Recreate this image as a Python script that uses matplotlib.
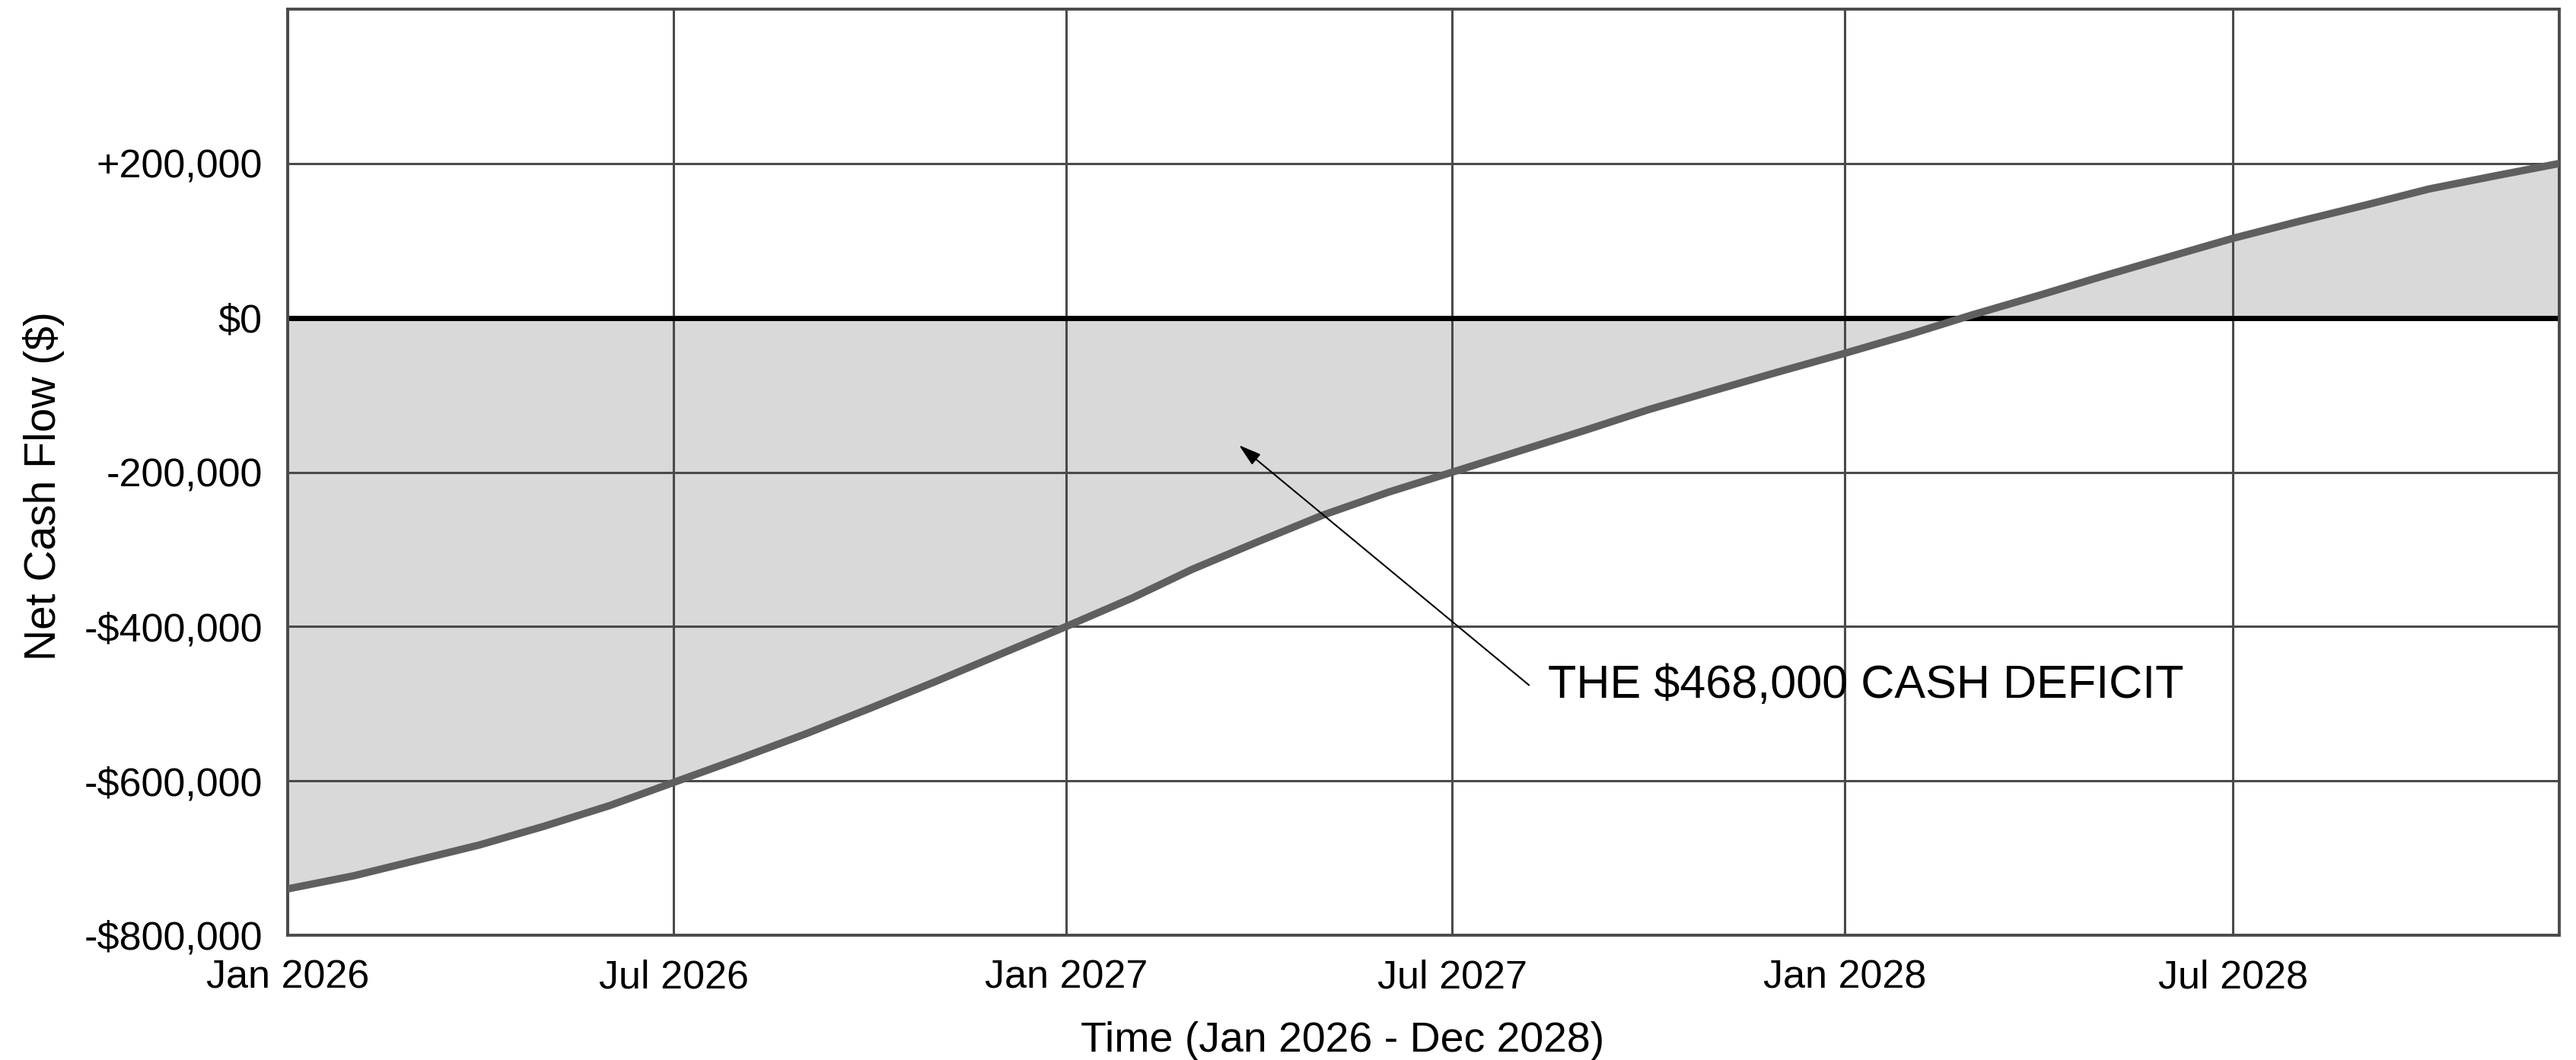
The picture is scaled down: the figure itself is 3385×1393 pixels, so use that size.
import matplotlib
matplotlib.use('Agg')
import matplotlib.pyplot as plt
import pandas as pd

plt.rcParams['font.family'] = ['Liberation Sans', 'DejaVu Sans']

# monthly net cash flow, Jan 2026 - Dec 2028 (in $ thousands)
months = pd.date_range('2026-01-01', periods=36, freq='MS')
net_flow_k = [-740, -723, -704, -683, -659, -632, -602, -571, -539, -506, -471, -436,
              -400, -363, -326, -290, -256, -226, -200, -173, -146, -119, -94, -70,
              -46, -21, 4, 29, 54, 79, 103, 125, 146, 167, 184, 200]
net_flow = [v * 1000 for v in net_flow_k]

ytick_vals = [-800000, -600000, -400000, -200000, 0, 200000]
ytick_labels = ['-$800,000', '-$600,000', '-$400,000', '-200,000', '$0', '+200,000']
xtick_dates = ['2026-01-01', '2026-07-01', '2027-01-01', '2027-07-01', '2028-01-01', '2028-07-01']
xtick_labels = ['Jan 2026', 'Jul 2026', 'Jan 2027', 'Jul 2027', 'Jan 2028', 'Jul 2028']

W, H = 3385, 1393
fig = plt.figure(figsize=(W / 100, H / 100), dpi=100)
ax = fig.add_axes([378 / W, 1 - 1229 / H, (3363 - 378) / W, (1229 - 12) / H])

ax.fill_between(months, net_flow, 0, color='#d9d9d9', lw=0, zorder=0.3)
ax.axhline(0, color='black', lw=5, zorder=2)
ax.plot(months, net_flow, color='#5f5f5f', lw=7, zorder=3,
        solid_joinstyle='round')

ax.set_xlim(months[0], months[-1])
ax.set_ylim(-800000, 400000)
ax.set_yticks(ytick_vals)
ax.set_yticklabels(ytick_labels)
ax.set_xticks(pd.to_datetime(xtick_dates))
ax.set_xticklabels(xtick_labels)

ax.set_axisbelow(True)
ax.grid(True, color='#4a4a4a', lw=2.2)
for s in ax.spines.values():
    s.set_color('#4a4a4a')
    s.set_linewidth(2.8)
ax.tick_params(axis='both', length=0, labelsize=37.5, colors='black')
ax.tick_params(axis='x', pad=23)
ax.tick_params(axis='y', pad=24)

# deficit callout
ax.annotate('', xy=(pd.Timestamp('2027-03-23'), -165000),
            xytext=(pd.Timestamp('2027-08-06'), -476000),
            arrowprops=dict(arrowstyle='-|>,head_length=0.5,head_width=0.15',
                            color='black', lw=1.5, mutation_scale=36,
                            shrinkA=0, shrinkB=0),
            zorder=4)
ax.text(pd.Timestamp('2027-08-15'), -477000, 'THE $468,000 CASH DEFICIT',
        fontsize=44, ha='left', va='center', zorder=4)

fig.text(58 / W, 1 - 639 / H, 'Net Cash Flow ($)', rotation=90,
         fontsize=41, ha='center', va='center')
fig.text(1764 / W, 1 - 1382 / H, 'Time (Jan 2026 - Dec 2028)',
         fontsize=40, ha='center', va='baseline')

fig.savefig('out.png', dpi=100, facecolor='white')
